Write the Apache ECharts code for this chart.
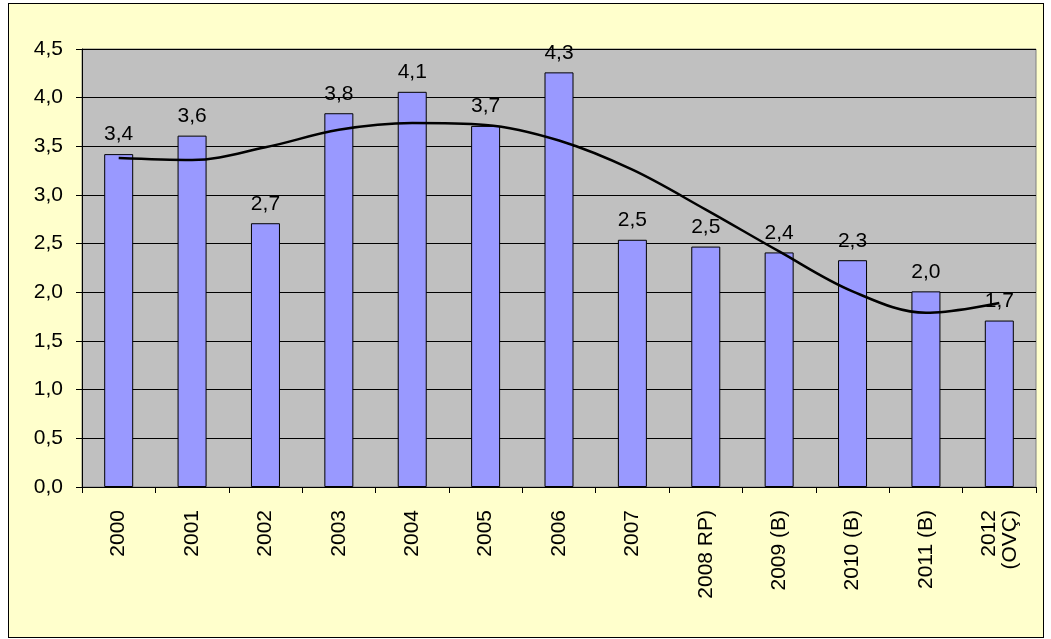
<!DOCTYPE html>
<html>
<head>
<meta charset="utf-8">
<script src="https://cdn.jsdelivr.net/npm/echarts@6/dist/echarts.min.js"></script>
<style>
  html, body { margin: 0; padding: 0; background: #fff; }
  #frame { position: absolute; left: 8px; top: 3px; width: 1036px; height: 635px;
           box-sizing: border-box; border: 1px solid #000; background: #ffffcc; }
  #chart { position: absolute; left: 0; top: 0; width: 1051px; height: 639px; }
</style>
</head>
<body>
<div id="frame"></div>
<div id="chart"></div>
<script>
// years on the x axis
var years = ['2000', '2001', '2002', '2003', '2004', '2005', '2006', '2007',
             '2008 RP)', '2009 (B)', '2010 (B)', '2011 (B)', '2012\n(OVÇ)'];
// bar heights
var growth = [3.42, 3.61, 2.71, 3.84, 4.06, 3.71, 4.26, 2.54, 2.47, 2.41, 2.33, 2.01, 1.71];
// trend curve read at each category centre
var trend = [3.38, 3.36, 3.49, 3.67, 3.74, 3.72, 3.56, 3.26, 2.85, 2.42, 2.01, 1.79, 1.89];

function comma(v) { return Number(v).toFixed(1).replace('.', ','); }

var chart = echarts.init(document.getElementById('chart'));
chart.setOption({
  backgroundColor: 'transparent',
  animation: false,
  grid: {
    left: 82, top: 49, width: 954, height: 438,
    show: true, backgroundColor: '#c0c0c0', borderColor: '#808080', borderWidth: 1
  },
  xAxis: {
    type: 'category',
    data: years,
    axisLine: { lineStyle: { color: '#000', width: 1 } },
    axisTick: { show: true, length: 6, lineStyle: { color: '#000' } },
    axisLabel: {
      rotate: 90, margin: 23, fontSize: 21, color: '#000', interval: 0, lineHeight: 21,
      fontFamily: 'Liberation Sans'
    }
  },
  yAxis: {
    type: 'value',
    min: 0, max: 4.5, interval: 0.5,
    axisLine: { show: true, lineStyle: { color: '#000', width: 1 } },
    axisTick: { show: true, length: 6, lineStyle: { color: '#000' } },
    axisLabel: { fontSize: 21, color: '#000', margin: 19, formatter: comma, fontFamily: 'Liberation Sans' },
    splitLine: { lineStyle: { color: '#000', width: 1 } }
  },
  series: [
    {
      type: 'bar',
      data: growth,
      barWidth: 29,
      itemStyle: { color: '#9999ff', borderColor: '#000', borderWidth: 1 },
      label: {
        show: true, position: 'top', distance: 9,
        fontSize: 21, color: '#000', fontFamily: 'Liberation Sans',
        formatter: function (p) { return comma(p.value); }
      }
    },
    {
      type: 'line',
      data: trend,
      smooth: 0.35,
      symbol: 'none',
      lineStyle: { color: '#000', width: 2.5 },
      z: 5
    }
  ]
});
</script>
</body>
</html>
